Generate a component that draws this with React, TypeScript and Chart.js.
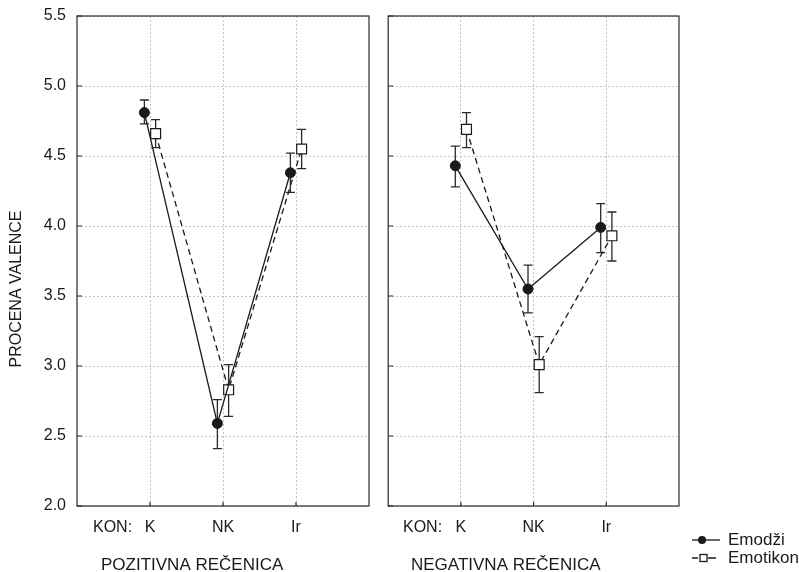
import React, { useEffect, useRef } from "react";
import { Chart, registerables } from "chart.js";

Chart.register(...registerables);

const categories = ["K", "NK", "Ir"];
const yTicks = [2.0, 2.5, 3.0, 3.5, 4.0, 4.5, 5.0, 5.5];
const seriesNames = ["Emodži", "Emotikon"];
const panelTitles = ["POZITIVNA REČENICA", "NEGATIVNA REČENICA"];
const factorLabel = "KON:";
const yTitle = "PROCENA VALENCE";

const posEmodzi = [4.81, 2.59, 4.38];
const posEmodziLow = [4.73, 2.41, 4.24];
const posEmodziHigh = [4.9, 2.76, 4.52];
const posEmotikon = [4.66, 2.83, 4.55];
const posEmotikonLow = [4.56, 2.64, 4.41];
const posEmotikonHigh = [4.76, 3.01, 4.69];

const negEmodzi = [4.43, 3.55, 3.99];
const negEmodziLow = [4.28, 3.38, 3.81];
const negEmodziHigh = [4.57, 3.72, 4.16];
const negEmotikon = [4.69, 3.01, 3.93];
const negEmotikonLow = [4.56, 2.81, 3.75];
const negEmotikonHigh = [4.81, 3.21, 4.1];

const FONT = "'Liberation Sans', Arial, Helvetica, sans-serif";
const INK = "#1a1a1a";
const GRID = "#c4c4c4";

function buildDatasets(em: number[], emLo: number[], emHi: number[], et: number[], etLo: number[], etHi: number[]) {
  const off = 0.077;
  return [
    {
      label: seriesNames[0],
      data: em.map((v, i) => ({ x: i + 1 - off, y: v })),
      errLow: emLo,
      errHigh: emHi,
      errX: em.map((_, i) => i + 1 - off),
      borderColor: INK,
      borderWidth: 1.3,
      pointStyle: "circle",
      pointRadius: 5,
      pointBackgroundColor: INK,
      pointBorderColor: INK,
      pointBorderWidth: 1,
      fill: false,
      tension: 0,
    },
    {
      label: seriesNames[1],
      data: et.map((v, i) => ({ x: i + 1 + off, y: v })),
      errLow: etLo,
      errHigh: etHi,
      errX: et.map((_, i) => i + 1 + off),
      borderColor: INK,
      borderWidth: 1.3,
      borderDash: [6, 4],
      pointStyle: "rect",
      pointRadius: 7,
      pointBackgroundColor: "#ffffff",
      pointBorderColor: INK,
      pointBorderWidth: 1.2,
      fill: false,
      tension: 0,
    },
  ];
}

const errorBarPlugin = {
  id: "errorBars",
  beforeDatasetsDraw(chart: any) {
    const ctx = chart.ctx;
    const xs = chart.scales.x;
    const ys = chart.scales.y;
    ctx.save();
    ctx.strokeStyle = "#2a2a2a";
    ctx.lineWidth = 1.3;
    ctx.setLineDash([]);
    chart.data.datasets.forEach((ds: any) => {
      ds.errX.forEach((xv: number, i: number) => {
        const px = xs.getPixelForValue(xv);
        const pLo = ys.getPixelForValue(ds.errLow[i]);
        const pHi = ys.getPixelForValue(ds.errHigh[i]);
        ctx.beginPath();
        ctx.moveTo(px, pLo);
        ctx.lineTo(px, pHi);
        ctx.moveTo(px - 4.5, pLo);
        ctx.lineTo(px + 4.5, pLo);
        ctx.moveTo(px - 4.5, pHi);
        ctx.lineTo(px + 4.5, pHi);
        ctx.stroke();
      });
    });
    ctx.restore();
  },
};

function makeFramePlugin(texts: { t: string; x: number; y: number; size: number; rot?: boolean }[], legend: { x: number; y: number } | null, yTickMarks: boolean) {
  return {
    id: "frameAndText",
    afterDraw(chart: any) {
      const ctx = chart.ctx;
      const a = chart.chartArea;
      const xs = chart.scales.x;
      const ys = chart.scales.y;
      ctx.save();
      ctx.setLineDash([]);
      ctx.strokeStyle = "#2a2a2a";
      ctx.lineWidth = 1.2;
      ctx.strokeRect(a.left, a.top, a.right - a.left, a.bottom - a.top);
      // inward tick marks
      ctx.beginPath();
      categories.forEach((_, i) => {
        const px = xs.getPixelForValue(i + 1);
        ctx.moveTo(px, a.bottom);
        ctx.lineTo(px, a.bottom - 4);
      });
      if (yTickMarks) {
        yTicks.forEach((v) => {
          const py = ys.getPixelForValue(v);
          ctx.moveTo(a.left, py);
          ctx.lineTo(a.left + 5, py);
        });
      }
      ctx.stroke();
      ctx.fillStyle = INK;
      texts.forEach((tx) => {
        ctx.font = `${tx.size}px ${FONT}`;
        ctx.textBaseline = "middle";
        if (tx.rot) {
          ctx.save();
          ctx.translate(tx.x, tx.y);
          ctx.rotate(-Math.PI / 2);
          ctx.textAlign = "center";
          ctx.fillText(tx.t, 0, 0);
          ctx.restore();
        } else {
          ctx.textAlign = "left";
          ctx.fillText(tx.t, tx.x, tx.y);
        }
      });
      if (legend) {
        const { x, y } = legend;
        ctx.font = `17px ${FONT}`;
        ctx.textAlign = "left";
        ctx.textBaseline = "middle";
        ctx.strokeStyle = INK;
        ctx.lineWidth = 1.3;
        // Emodži
        ctx.beginPath();
        ctx.moveTo(x, y);
        ctx.lineTo(x + 28, y);
        ctx.stroke();
        ctx.beginPath();
        ctx.arc(x + 10, y, 4, 0, Math.PI * 2);
        ctx.fill();
        ctx.fillText(seriesNames[0], x + 36, y);
        // Emotikon
        const y2 = y + 18;
        ctx.beginPath();
        ctx.moveTo(x, y2);
        ctx.lineTo(x + 6, y2);
        ctx.moveTo(x + 16, y2);
        ctx.lineTo(x + 24, y2);
        ctx.stroke();
        ctx.fillStyle = "#fff";
        ctx.fillRect(x + 8, y2 - 3.5, 7, 7);
        ctx.strokeRect(x + 8, y2 - 3.5, 7, 7);
        ctx.fillStyle = INK;
        ctx.fillText(seriesNames[1], x + 36, y2);
      }
      ctx.restore();
    },
  };
}

function makeConfig(datasets: any[], showY: boolean, padRight: number, yWidth: number, plugin: any) {
  return {
    type: "line" as const,
    data: { datasets },
    plugins: [errorBarPlugin, plugin],
    options: {
      responsive: false,
      animation: false as const,
      layout: { padding: { top: 16, right: padRight, left: 0, bottom: 0 } },
      plugins: { legend: { display: false }, tooltip: { enabled: false } },
      scales: {
        x: {
          type: "linear" as const,
          min: 0,
          max: 4,
          afterBuildTicks: (s: any) => {
            s.ticks = categories.map((_, i) => ({ value: i + 1 }));
          },
          ticks: {
            callback: (v: any) => categories[Math.round(v) - 1] ?? "",
            font: { family: FONT, size: 16 },
            color: INK,
            padding: 12,
            maxRotation: 0,
            autoSkip: false,
          },
          grid: { color: GRID, drawTicks: false, lineWidth: 1 },
          border: { display: false, dash: [2, 2] },
          afterFit: (s: any) => {
            s.height = 66;
          },
        },
        y: {
          type: "linear" as const,
          min: 2,
          max: 5.5,
          afterBuildTicks: (s: any) => {
            s.ticks = yTicks.map((v) => ({ value: v }));
          },
          ticks: {
            display: showY,
            callback: (v: any) => Number(v).toFixed(1),
            font: { family: FONT, size: 16 },
            color: INK,
            padding: 5,
          },
          grid: { color: GRID, drawTicks: showY, tickLength: 6, tickColor: "rgba(0,0,0,0)", lineWidth: 1 },
          border: { display: false, dash: [2, 2] },
          afterFit: (s: any) => {
            s.width = yWidth;
          },
        },
      },
    },
  };
}

export default function App() {
  const leftRef = useRef<HTMLCanvasElement>(null);
  const rightRef = useRef<HTMLCanvasElement>(null);

  useEffect(() => {
    const leftPlugin = makeFramePlugin(
      [
        { t: factorLabel, x: 93, y: 528, size: 16 },
        { t: panelTitles[0], x: 101, y: 565, size: 17 },
        { t: yTitle, x: 17, y: 289, size: 16, rot: true },
      ],
      null,
      true
    );
    const rightPlugin = makeFramePlugin(
      [
        { t: factorLabel, x: 23, y: 528, size: 16 },
        { t: panelTitles[1], x: 31, y: 565, size: 17 },
      ],
      { x: 312, y: 540 },
      true
    );
    const left = new Chart(
      leftRef.current!,
      makeConfig(
        buildDatasets(posEmodzi, posEmodziLow, posEmodziHigh, posEmotikon, posEmotikonLow, posEmotikonHigh),
        true,
        11,
        77,
        leftPlugin
      ) as any
    );
    const right = new Chart(
      rightRef.current!,
      makeConfig(
        buildDatasets(negEmodzi, negEmodziLow, negEmodziHigh, negEmotikon, negEmotikonLow, negEmotikonHigh),
        false,
        120,
        7,
        rightPlugin
      ) as any
    );
    return () => {
      left.destroy();
      right.destroy();
    };
  }, []);

  return (
    <div style={{ position: "absolute", left: 0, top: 0, width: 799, height: 572, background: "#fff" }}>
      <canvas ref={leftRef} width={380} height={572} style={{ position: "absolute", left: 0, top: 0, width: 380, height: 572 }} />
      <canvas ref={rightRef} width={419} height={572} style={{ position: "absolute", left: 380, top: 0, width: 419, height: 572 }} />
    </div>
  );
}
